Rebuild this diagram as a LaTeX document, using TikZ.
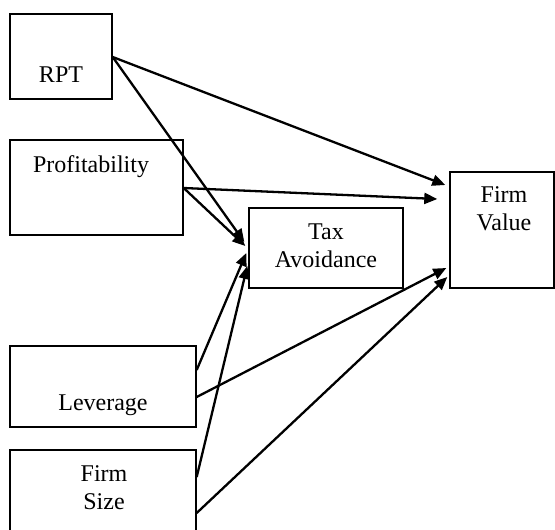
\documentclass[tikz,border=0pt]{standalone}
\usepackage{fontspec}
\setmainfont{Liberation Serif}
\usetikzlibrary{arrows.meta}
\begin{document}
\begin{tikzpicture}[x=1pt,y=-1pt,
  box/.style={draw,line width=1.4pt,inner sep=0pt,minimum width=#1},
  lbl/.style={inner sep=0pt,font=\fontsize{24}{28}\selectfont,align=center},
  arr/.style={line width=2.3pt,-{Triangle[length=13pt,width=11pt]}}]
\useasboundingbox (0,0) rectangle (555,530);
\clip (0,0) rectangle (555,530);
% boxes
\node[box=102pt,minimum height=85pt] (rpt) at (61,56.5) {};
\node[box=173pt,minimum height=95pt] (prof) at (96.5,187.5) {};
\node[box=154pt,minimum height=80pt] (ta) at (326,248) {};
\node[box=104pt,minimum height=116pt] (fv) at (502,230) {};
\node[box=186pt,minimum height=81pt] (lev) at (103,386.5) {};
\node[box=186pt,minimum height=95pt] (fs) at (103,497.5) {};
% labels
\node[lbl,anchor=base] (trpt) at (61,82) {RPT};
\node[lbl,anchor=base] (tprof) at (91,172) {Profitability};
\node[lbl] (tta) at (326,246) {Tax\\Avoidance};
\node[lbl] (tfv) at (504,209) {Firm\\Value};
\node[lbl,anchor=base] (tlev) at (103,410) {Leverage};
\node[lbl] (tfs) at (104,488) {Firm\\Size};
% arrows
\draw[arr] ([shift={(0,0.5)}]rpt.east) -- ([shift={(-4,-45)}]fv.west);
\draw[arr] ([shift={(0,0.5)}]rpt.east) -- ([shift={(-4,-6)}]ta.west);
\draw[arr] ([shift={(0,0.5)}]prof.east) -- ([shift={(-3,-2)}]ta.west);
\draw[arr] ([shift={(0,0.5)}]prof.east) -- ([shift={(-12,-31)}]fv.west);
\draw[arr] ([shift={(0,-16.5)}]lev.east) -- ([shift={(-2,5)}]ta.west);
\draw[arr] ([shift={(0,10.5)}]lev.east) -- ([shift={(-3,38)}]fv.west);
\draw[arr] ([shift={(0,-20.5)}]fs.east) -- ([shift={(-1,18)}]ta.west);
\draw[arr] ([shift={(0,15.5)}]fs.east) -- ([shift={(-2,47)}]fv.west);
\end{tikzpicture}
\end{document}
